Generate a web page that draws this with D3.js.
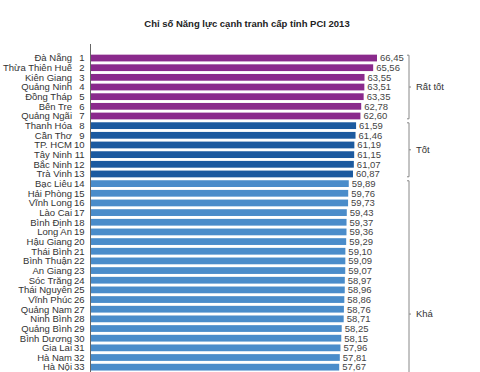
<!DOCTYPE html>
<html>
<head>
<meta charset="utf-8">
<script src="https://cdn.jsdelivr.net/npm/d3@7"></script>
<style>
  body { margin: 0; background: #fff; }
  svg { display: block; font-family: "Liberation Sans", Arial, sans-serif; }
</style>
</head>
<body>
<div id="wrapper"></div>
<script>
const provinces = ["Đà Nẵng","Thừa Thiên Huế","Kiên Giang","Quảng Ninh","Đồng Tháp","Bến Tre","Quảng Ngãi",
    "Thanh Hóa","Cần Thơ","TP. HCM","Tây Ninh","Bắc Ninh","Trà Vinh",
    "Bạc Liêu","Hải Phòng","Vĩnh Long","Lào Cai","Bình Định","Long An","Hậu Giang","Thái Bình",
    "Bình Thuận","An Giang","Sóc Trăng","Thái Nguyên","Vĩnh Phúc","Quảng Nam","Ninh Bình",
    "Quảng Bình","Bình Dương","Gia Lai","Hà Nam","Hà Nội"];
const ranks = [1,2,3,4,5,6,7,8,9,10,11,12,13,14,15,16,17,18,19,20,21,22,23,24,25,26,27,28,29,30,31,32,33];
const values = [66.45,65.56,63.55,63.51,63.35,62.78,62.60,
    61.59,61.46,61.19,61.15,61.07,60.87,
    59.89,59.76,59.73,59.43,59.37,59.36,59.29,59.10,
    59.09,59.07,58.97,58.96,58.86,58.76,58.71,
    58.25,58.15,57.96,57.81,57.67];

const groupNames = ["Rất tốt","Tốt","Khá"];
const groupFirst = [1,8,14];
const groupLast = [7,13,41];
const groupColors = ["#8a2a8c","#1c5a9f","#4a8cca"];

const data = provinces.map((p, i) => ({name: p, rank: ranks[i], value: values[i]}));

var dimension = {
    width: 480,
    height: 372,
    margin: {top: 53.2, left: 91, bottom: 0, right: 0}
};

const svg = d3.select("#wrapper").append("svg")
    .attr("width", dimension.width)
    .attr("height", dimension.height);

const xScaler = d3.scaleLinear()
    .domain([0, 66.45])
    .range([dimension.margin.left, 377]);

const yScaler = d3.scaleBand()
    .domain(ranks)
    .range([dimension.margin.top, dimension.height])
    .paddingInner(0.3)
    .paddingOuter(0.15);

const step = yScaler.step();
const rowTop = r => dimension.margin.top + (r - 1) * step;   // works past the visible rows too
const groupOf = r => groupFirst.findIndex((f, i) => r >= f && r <= groupLast[i]);

const fmt = d3.formatLocale({decimal: ",", thousands: ".", grouping: [3], currency: ["", ""]}).format(".2f");

// title
svg.append("text")
    .attr("x", 247)
    .attr("y", 26.5)
    .attr("text-anchor", "middle")
    .style("font-size", "9.5px")
    .style("font-weight", "bold")
    .style("fill", "#222")
    .text("Chỉ số Năng lực cạnh tranh cấp tỉnh PCI 2013");

// bars
svg.append("g").selectAll("rect")
    .data(data)
    .join("rect")
    .attr("x", xScaler(0))
    .attr("y", d => yScaler(d.rank))
    .attr("width", d => xScaler(d.value) - xScaler(0))
    .attr("height", yScaler.bandwidth())
    .attr("fill", d => groupColors[groupOf(d.rank)]);

// vertical axis line
svg.append("line")
    .attr("x1", xScaler(0) - 0.5).attr("x2", xScaler(0) - 0.5)
    .attr("y1", 44).attr("y2", dimension.height)
    .attr("stroke", "#666")
    .attr("stroke-width", 1);

const mid = d => yScaler(d.rank) + yScaler.bandwidth() / 2;

// province names
svg.append("g").selectAll("text")
    .data(data)
    .join("text")
    .attr("x", 72)
    .attr("y", mid)
    .attr("dy", "0.35em")
    .attr("text-anchor", "end")
    .style("font-size", "9.5px")
    .style("fill", "#333")
    .text(d => d.name);

// ranks
svg.append("g").selectAll("text")
    .data(data)
    .join("text")
    .attr("x", 84.5)
    .attr("y", mid)
    .attr("dy", "0.35em")
    .attr("text-anchor", "end")
    .style("font-size", "9.5px")
    .style("fill", "#333")
    .text(d => d.rank);

// values
svg.append("g").selectAll("text")
    .data(data)
    .join("text")
    .attr("x", d => xScaler(d.value) + 3)
    .attr("y", mid)
    .attr("dy", "0.35em")
    .style("font-size", "9.5px")
    .style("fill", "#444")
    .text(d => fmt(d.value));

// group brackets
const bx = 409;
groupNames.forEach((g, i) => {
    const y0 = rowTop(groupFirst[i]) + 2;
    const y1 = rowTop(groupLast[i] + 1) - 2;
    const ym = (y0 + y1) / 2;
    svg.append("path")
        .attr("d", `M${bx - 2},${y0}H${bx}V${y1}H${bx - 2}M${bx},${ym}H${bx + 2}`)
        .attr("fill", "none")
        .attr("stroke", "#888")
        .attr("stroke-width", 1);
    svg.append("text")
        .attr("x", bx + 7)
        .attr("y", ym)
        .attr("dy", "0.35em")
        .style("font-size", "9.5px")
        .style("fill", "#333")
        .text(g);
});
</script>
</body>
</html>
